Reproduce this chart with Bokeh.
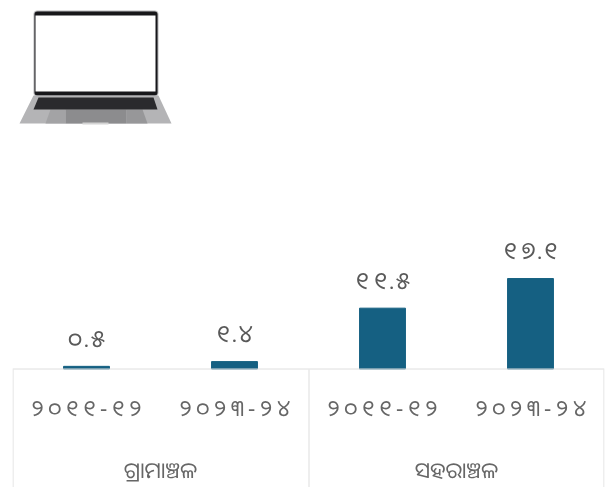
from bokeh.plotting import figure
from bokeh.models import FactorRange, Range1d, BoxAnnotation, PolyAnnotation, ColumnDataSource, Span
from bokeh.core.properties import value
from bokeh.embed import file_html
from bokeh.resources import INLINE

groups = ["ଗ୍ରାମାଞ୍ଚଳ", "ଗ୍ରାମାଞ୍ଚଳ", "ସହରାଞ୍ଚଳ", "ସହରାଞ୍ଚଳ"]
group_names = ["ଗ୍ରାମାଞ୍ଚଳ", "ସହରାଞ୍ଚଳ"]
years = ["୨\u2009୦\u2009୧\u2009୧\u2009-\u2009୧\u2009୨", "୨\u2009୦\u2009୨\u2009୩\u2009-\u2009୨\u2009୪",
         "୨\u2009୦\u2009୧\u2009୧\u2009-\u2009୧\u2009୨", "୨\u2009୦\u2009୨\u2009୩\u2009-\u2009୨\u2009୪"]
values = [0.5, 1.4, 11.5, 17.1]
labels = ["୦\u200a.\u200a୫", "୧\u200a.\u200a୪", "୧\u2009୧\u200a.\u200a୫", "୧\u2009୭\u200a.\u200a୧"]

FONT = "Noto Sans Oriya, Noto Sans"
factors = list(zip(groups, years))
src = ColumnDataSource(dict(x=factors, y=values, t=labels, z=[0] * 4, yr=years))
gsrc = ColumnDataSource(dict(x=group_names, z=[0, 0], t=group_names))

p = figure(width=608, height=487, x_range=FactorRange(factors=factors, group_padding=0, factor_padding=0, range_padding=0),
           y_range=Range1d(-22.4, 69.66), output_backend="svg", toolbar_location=None,
           min_border_left=12, min_border_right=4, min_border_top=0, min_border_bottom=0,
           outline_line_color=None, styles={"position": "fixed", "left": "0px", "top": "0px"})
p.grid.visible = False
p.axis.visible = False

p.add_layout(Span(location=0, dimension="width", line_color="#dedede", line_width=1))
p.vbar(x="x", top="y", width=0.31, source=src, color="#156082")
p.text(x="x", y="y", text="t", source=src, text_font=value(FONT), text_font_size="24px",
       text_color="#595959", text_align="center", text_baseline="alphabetic", y_offset=-29)
p.text(x="x", y="z", text="yr", source=src, text_font=value(FONT), text_font_size="22.5px",
       text_color="#666666", text_align="center", text_baseline="middle", y_offset=38)
p.text(x="x", y="z", text="t", source=gsrc, text_font=value(FONT), text_font_size="22px",
       text_color="#666666", text_align="center", text_baseline="middle", y_offset=100)

OX, OY = 12, 487

def box(l, t, r, b, fill, radius=0):
    p.add_layout(BoxAnnotation(left=l - OX, right=r - OX, top=OY - t, bottom=OY - b, left_units="screen", right_units="screen",
                               top_units="screen", bottom_units="screen", fill_color=fill, fill_alpha=1,
                               line_color=None, border_radius=radius, level="overlay"))

def poly(xs, ys, fill):
    p.add_layout(PolyAnnotation(xs=[v - OX for v in xs], ys=[OY - v for v in ys], xs_units="screen", ys_units="screen",
                                fill_color=fill, fill_alpha=1, line_color=None, level="overlay"))

# box vertical rules
for xx in (12, 308, 603):
    box(xx, 369, xx + 1, 487, "#dedede")

# laptop picture
box(33, 10, 158, 96, "#b5b5b7", 4)
box(34, 11, 157, 95, "#17171a", 3)
box(35, 15, 155, 91, "#ffffff")
poly([33, 158, 171, 19], [95, 95, 123, 123], "#b4b4b6")
poly([65, 126, 126, 65], [109, 109, 123, 123], "#8c8c8e")
poly([50, 65, 65, 45], [109, 109, 123, 123], "#a3a3a5")
poly([126, 142, 147, 126], [109, 109, 123, 123], "#979799")
poly([38, 153, 157, 33], [97, 97, 109, 109], "#2a2a2d")
box(82, 122, 108, 124, "#d4d4d4")

open("out.html", "w").write(file_html(p, INLINE))
